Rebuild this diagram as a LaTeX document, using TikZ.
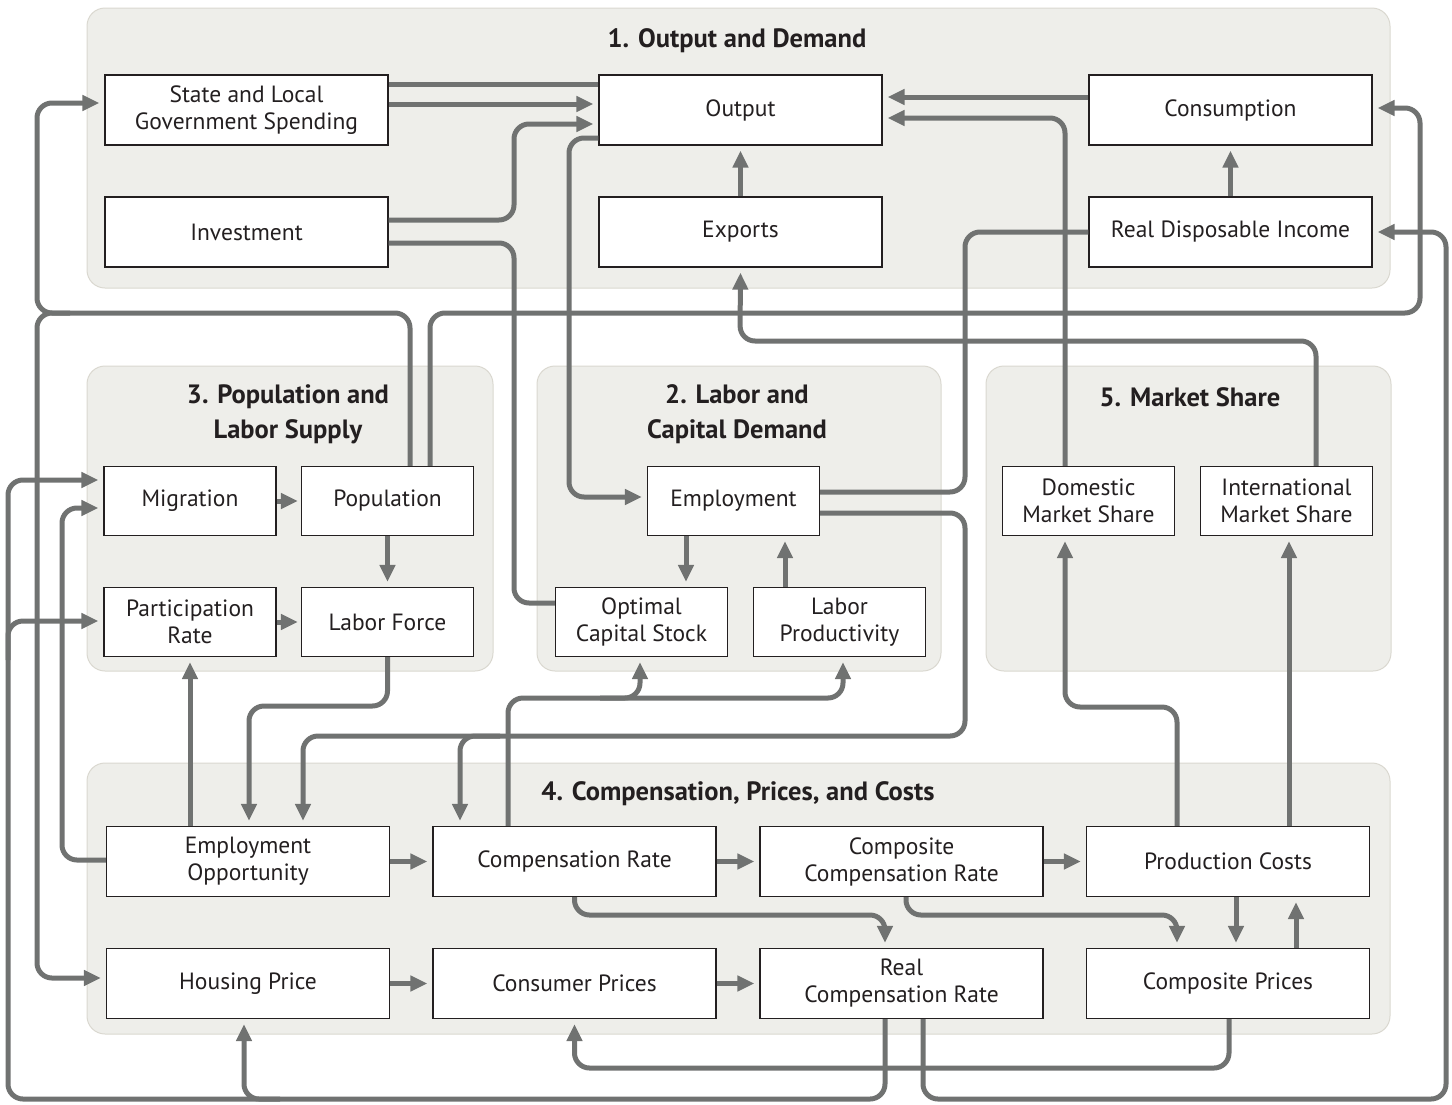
\documentclass[tikz,border=0pt]{standalone}
\usepackage{fontspec}
\setmainfont{PT Sans}
\usetikzlibrary{arrows.meta}
\definecolor{grpfill}{HTML}{EEEEEA}
\definecolor{grpline}{HTML}{DAD8D0}
\definecolor{linkgray}{HTML}{707271}
\definecolor{ink}{HTML}{231F20}

\tikzset{
	grp/.style={fill=grpfill, draw=grpline, line width=1pt, rounded corners=18pt},
	ttl/.style={text=ink, align=center, font=\bfseries\fontsize{26.5}{35}\selectfont},
	blk/.style={draw=ink, fill=white, line width=1.2pt, text=ink, align=center,
		inner sep=0pt, minimum width=283pt, minimum height=70pt,
		font=\fontsize{23.5}{27}\selectfont},
	sblk/.style={blk, minimum width=172pt, minimum height=69pt},
	link/.style={draw=linkgray, line width=5pt, rounded corners=15pt},
	arr/.style={link, -{Triangle[length=17pt,width=15pt]}, shorten >=5pt},
}

\begin{document}
\begin{tikzpicture}[x=1pt, y=-1pt]
	\useasboundingbox (0,0) rectangle (1452,1104);

	% groups
	\draw[grp] (87,8) rectangle (1390,288);
	\draw[grp] (87,366) rectangle (493,671);
	\draw[grp] (537,366) rectangle (941,671);
	\draw[grp] (986,366) rectangle (1391,671);
	\draw[grp] (87,763) rectangle (1390,1034);

	\node[ttl] (t1) at (737,41) {1. Output and Demand};
	\node[ttl] (t3) at (288,414) {3. Population and\\Labor Supply};
	\node[ttl] (t2) at (737,414) {2. Labor and\\Capital Demand};
	\node[ttl] (t5) at (1190,397) {5. Market Share};
	\node[ttl] (t4) at (738,794) {4. Compensation, Prices, and Costs};

	% 1
	\node[blk] (slgs) at (246.5,110) {State and Local\\Government Spending};
	\node[blk] (inv) at (246.5,232) {Investment};
	\node[blk] (out) at (740.5,110) {Output};
	\node[blk] (exp) at (740.5,232) {Exports};
	\node[blk] (cons) at (1230.5,110) {Consumption};
	\node[blk] (rdi) at (1230.5,232) {Real Disposable Income};

	% 3
	\node[sblk] (mig) at (190,501) {Migration};
	\node[sblk] (pop) at (387.5,501) {Population};
	\node[sblk] (part) at (190,622) {Participation\\Rate};
	\node[sblk] (lab) at (387.5,622) {Labor Force};

	% 2
	\node[sblk] (emp) at (733.5,501) {Employment};
	\node[sblk] (ocs) at (641.5,622) {Optimal\\Capital Stock};
	\node[sblk] (lp) at (839.5,622) {Labor\\Productivity};

	% 5
	\node[sblk] (dms) at (1088.5,501) {Domestic\\Market Share};
	\node[sblk] (ims) at (1286.5,501) {International\\Market Share};

	% 4
	\node[blk] (eo) at (248,861.5) {Employment\\Opportunity};
	\node[blk] (cr) at (574.5,861.5) {Compensation Rate};
	\node[blk] (ccr) at (901.5,861.5) {Composite\\Compensation Rate};
	\node[blk] (pc) at (1228,861.5) {Production Costs};
	\node[blk] (hp) at (248,983.5) {Housing Price};
	\node[blk] (cp) at (574.5,983.5) {Consumer Prices};
	\node[blk] (rcr) at (901.5,983.5) {Real\\Compensation Rate};
	\node[blk] (cpr) at (1228,983.5) {Composite Prices};

	% links
	\draw[link] (slgs.east |- 0,84) -- (out.west |- 0,84);
	\draw[arr] (slgs.east |- 0,104) -- (out.west |- 0,104);
	\draw[arr] (inv.east |- 0,220) -- (514,220) -- (514,124) -- (out.west |- 0,124);
	\draw[link] (inv.east |- 0,243) -- (514,243) -- (514,603) -- (ocs.west |- 0,603);
	\draw[arr] (out.west |- 0,138) -- (569,138) -- (569,497) -- (emp.west |- 0,497);
	\draw[arr] (exp.north) -- (out.south);
	\draw[arr] (rdi.north) -- (cons.south);
	\draw[arr] (cons.west |- 0,97) -- (out.east |- 0,97);
	\draw[arr] (dms.north -| 1065,0) -- (1065,118) -- (out.east |- 0,118);
	\draw[arr] (ims.north -| 1316,0) -- (1316,341) -- (740,341) -- (exp.south);

	\draw[link] (emp.east |- 0,492) -- (965,492) -- (965,232) -- (rdi.west |- 0,232);
	\draw[arr] (emp.east |- 0,513) -- (965,513) -- (965,736) -- (303,736) -- (eo.north -| 303,0);
	\draw[arr] (500,736) -- (460,736) -- (cr.north -| 460,0);
	\draw[arr] (emp.south -| 686,0) -- (ocs.north -| 686,0);
	\draw[arr] (lp.north -| 785,0) -- (emp.south -| 785,0);

	\draw[arr] (pop.north -| 410,0) -- (410,313) -- (37,313) -- (37,103) -- (slgs.west |- 0,103);
	\draw[arr] (70,313) -- (37,313) -- (37,978) -- (hp.west |- 0,978);
	\draw[arr] (pop.north -| 430,0) -- (430,313) -- (1420,313) -- (1420,108) -- (cons.east |- 0,108);
	\draw[arr, shorten >=3pt] (mig.east) -- (pop.west);
	\draw[arr, shorten >=3pt] (part.east) -- (lab.west);
	\draw[arr] (pop.south) -- (lab.north);

	\draw[arr] (rcr.south -| 885,0) -- (885,1099) -- (8,1099) -- (8,480) -- (mig.west |- 0,480);
	\draw[arr] (8,660) -- (8,621) -- (part.west |- 0,621);
	\draw[arr] (280,1099) -- (244,1099) -- (hp.south -| 244,0);
	\draw[arr] (rcr.south -| 923,0) -- (923,1099) -- (1446,1099) -- (1446,232) -- (rdi.east |- 0,232);

	\draw[arr] (eo.west |- 0,860) -- (62,860) -- (62,508) -- (mig.west |- 0,508);
	\draw[arr] (eo.north -| part.south) -- (part.south);
	\draw[arr] (lab.south) -- (387.5,706) -- (249,706) -- (eo.north -| 249,0);
	\draw[arr] (eo.east) -- (cr.west);
	\draw[arr] (cr.east) -- (ccr.west);
	\draw[arr] (ccr.east) -- (pc.west);
	\draw[arr] (hp.east) -- (cp.west);
	\draw[arr] (cp.east) -- (rcr.west);

	\draw[arr] (cr.north -| 508,0) -- (508,698) -- (843,698) -- (lp.south -| 843,0);
	\draw[arr] (600,698) -- (640,698) -- (ocs.south -| 640,0);
	\draw[arr] (cr.south) -- (574.5,915) -- (885,915) -- (rcr.north -| 885,0);
	\draw[arr] (ccr.south -| 906,0) -- (906,915) -- (1177,915) -- (cpr.north -| 1177,0);
	\draw[arr] (pc.south -| 1236,0) -- (cpr.north -| 1236,0);
	\draw[arr] (cpr.north -| 1296,0) -- (pc.south -| 1296,0);
	\draw[arr] (cpr.south -| 1229,0) -- (1229,1068) -- (574.5,1068) -- (cp.south);
	\draw[arr] (pc.north -| 1177,0) -- (1177,707) -- (1065,707) -- (dms.south -| 1065,0);
	\draw[arr] (pc.north -| 1289,0) -- (ims.south -| 1289,0);
\end{tikzpicture}
\end{document}
